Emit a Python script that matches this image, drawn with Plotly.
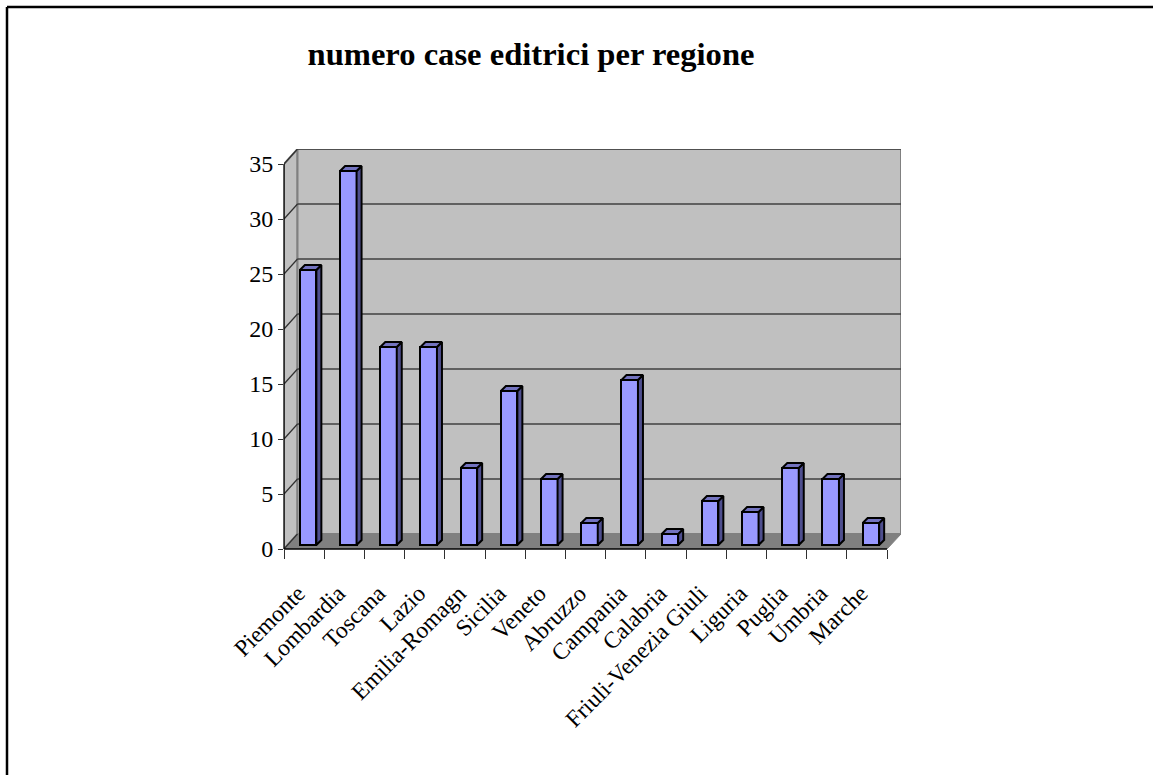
import plotly.graph_objects as go

regions = ["Piemonte", "Lombardia", "Toscana", "Lazio", "Emilia-Romagn", "Sicilia", "Veneto", "Abruzzo",
           "Campania", "Calabria", "Friuli-Venezia Giuli", "Liguria", "Puglia", "Umbria", "Marche"]
values = [25, 34, 18, 18, 7, 14, 6, 2, 15, 1, 4, 3, 7, 6, 2]
y_ticks = [0, 5, 10, 15, 20, 25, 30, 35]

W, H = 1153, 775
PX_L, PX_R, PX_T, PX_B = 284, 901, 149, 549
PX_FRONT_R, PX_Y35 = 887, 164
UNIT_X = (PX_FRONT_R - PX_L) / 15
UNIT_Y = 11.0
xr = [-0.5, -0.5 + (PX_R - PX_L) / UNIT_X]
yr = [0, (PX_B - PX_T) / UNIT_Y]
WALL_DX, WALL_DY = 13.5 / UNIT_X, 15 / UNIT_Y
BAR_DX, BAR_DY = 5 / UNIT_X, 5 / UNIT_Y
BASE = 4 / UNIT_Y
BAR_W, BAR_OFF = 0.41, -0.105
FRONT_END = 14.5

sx, sy, tx, ty = [], [], [], []
for i, v in enumerate(values):
    a, b = i + BAR_OFF, i + BAR_OFF + BAR_W
    top = BASE + v
    sx += [b, b + BAR_DX, b + BAR_DX, b, b, None]
    sy += [BASE, BASE + BAR_DY, top + BAR_DY, top, BASE, None]
    tx += [a, a + BAR_DX, b + BAR_DX, b, a, None]
    ty += [top, top + BAR_DY, top + BAR_DY, top, top, None]

fig = go.Figure()
fig.add_bar(x=regions, y=values, base=BASE, width=BAR_W, offset=BAR_OFF,
            marker=dict(color="#9999ff", line=dict(color="black", width=2)), showlegend=False)
fig.add_scatter(x=sx, y=sy, xaxis="x2", mode="lines", fill="toself", fillcolor="#4f4f8f",
                line=dict(color="black", width=2), showlegend=False, hoverinfo="skip")
fig.add_scatter(x=tx, y=ty, xaxis="x2", mode="lines", fill="toself", fillcolor="#7373bf",
                line=dict(color="black", width=2), showlegend=False, hoverinfo="skip")

L0 = xr[0]
shapes = [
    # side wall
    dict(type="path", xref="x2", yref="y", layer="below", fillcolor="#c0c0c0", line=dict(color="#808080", width=2),
         path=f"M{L0},0 L{L0+WALL_DX},{WALL_DY} L{L0+WALL_DX},{yr[1]} L{L0},{35} Z"),
    # back wall
    dict(type="rect", xref="x2", yref="y", layer="below", fillcolor="#c0c0c0", line=dict(color="#808080", width=2),
         x0=L0 + WALL_DX, x1=xr[1], y0=WALL_DY, y1=yr[1]),
    # floor
    dict(type="path", xref="x2", yref="y", layer="below", fillcolor="#808080", line=dict(color="#808080", width=1),
         path=f"M{L0},0 L{L0+WALL_DX},{WALL_DY} L{xr[1]},{WALL_DY} L{FRONT_END},0 Z"),
    # front axis lines
    dict(type="line", xref="paper", yref="paper", x0=PX_L / W, x1=PX_L / W, y0=1 - PX_B / H, y1=1 - PX_Y35 / H,
         line=dict(color="black", width=1.3)),
    dict(type="line", xref="paper", yref="paper", x0=PX_L / W, x1=PX_FRONT_R / W, y0=1 - PX_B / H, y1=1 - PX_B / H,
         line=dict(color="black", width=1.5)),
    # page border
    dict(type="line", xref="paper", yref="paper", x0=7 / W, x1=1, y0=1 - 7 / H, y1=1 - 7 / H,
         line=dict(color="black", width=2.5)),
    dict(type="line", xref="paper", yref="paper", x0=7 / W, x1=7 / W, y0=1 - 7 / H, y1=0,
         line=dict(color="black", width=2.5)),
]
for t in y_ticks:
    if t > 0:
        shapes.append(dict(type="line", xref="x2", yref="y", layer="below", x0=L0 + WALL_DX, x1=xr[1],
                           y0=t + WALL_DY, y1=t + WALL_DY, line=dict(color="#404040", width=1.5)))
    shapes.append(dict(type="line", xref="x2", yref="y", layer="below", x0=L0, x1=L0 + WALL_DX,
                       y0=t, y1=t + WALL_DY, line=dict(color="#303030", width=1.2)))

fig.update_layout(
    width=W, height=H, margin=dict(l=0, r=0, t=0, b=0), paper_bgcolor="white", plot_bgcolor="white",
    showlegend=False, shapes=shapes, bargap=0,
    font=dict(family="Liberation Serif", color="black"),
    title=dict(text="<b>numero case editrici per regione</b>", x=531 / W, xanchor="center", xref="paper",
               y=1 - 54 / H, yanchor="middle", yref="paper", font=dict(size=32.6, family="Liberation Serif", color="black")),
    xaxis=dict(type="category", categoryorder="array", categoryarray=regions, domain=[PX_L / W, PX_R / W],
               range=xr, tickson="boundaries", ticks="outside", ticklen=9, tickwidth=1.3, tickcolor="#303030",
               tickangle=-45, tickfont=dict(size=23.5, family="Liberation Serif", color="black"), ticklabelstandoff=25,
               ticklabelshift=-6, showgrid=False, showline=False, zeroline=False, anchor="y", automargin=False),
    xaxis2=dict(type="linear", overlaying="x", range=xr, visible=False, anchor="y", domain=[PX_L / W, PX_R / W]),
    yaxis=dict(domain=[1 - PX_B / H, 1 - PX_T / H], range=yr, tickmode="array", tickvals=y_ticks, ticks="outside",
               ticklen=5, tickwidth=1.3, tickcolor="#303030", tickfont=dict(size=24, family="Liberation Serif", color="black"),
               showgrid=False, showline=False, zeroline=False, automargin=False),
)
fig.write_html("out.html", config=dict(displayModeBar=False),
               post_script="document.body.style.margin='0';document.body.style.overflow='hidden';")
